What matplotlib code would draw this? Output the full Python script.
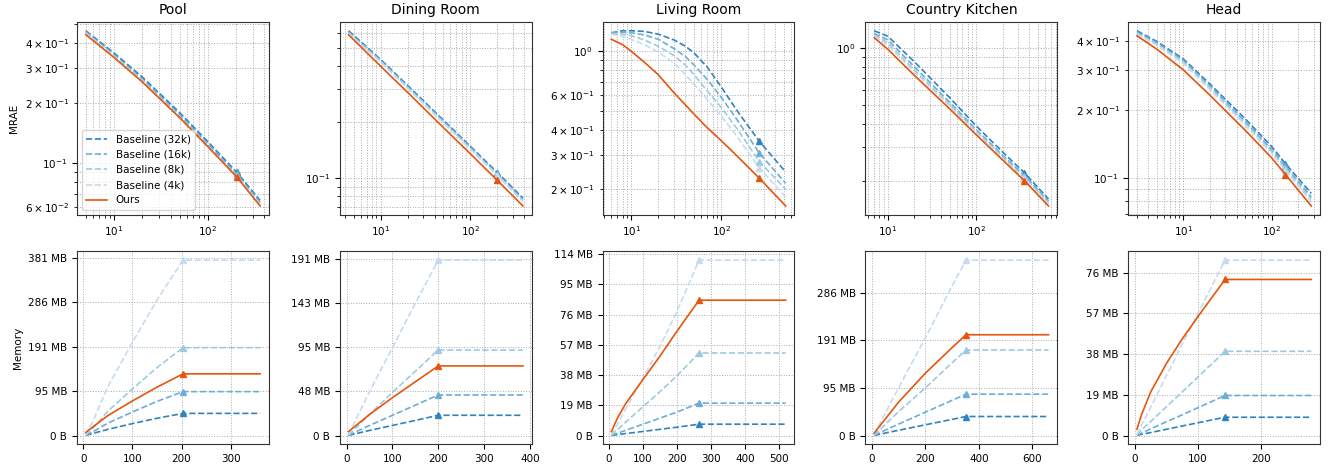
import matplotlib
matplotlib.use("Agg")
import matplotlib.pyplot as plt
from matplotlib.ticker import FuncFormatter, MultipleLocator

scenes = ["Pool", "Dining Room", "Living Room", "Country Kitchen", "Head"]
labels = ["Baseline (32k)", "Baseline (16k)", "Baseline (8k)", "Baseline (4k)", "Ours"]
colors = ["#3282bd", "#6baed6", "#9ecae1", "#c6dbef", "#e6550d"]

# x where memory stops growing (triangle marker), one per scene
knee_x = [203, 200, 265, 352, 143]

# ---- MRAE (top row), order: 32k, 16k, 8k, 4k, ours
pool_mrae_x = [5, 10, 20, 50, 100, 203, 360]
pool_mrae = [
    [0.46, 0.356, 0.27, 0.179, 0.128, 0.09, 0.065],
    [0.455, 0.35, 0.264, 0.175, 0.125, 0.088, 0.0635],
    [0.45, 0.345, 0.26, 0.171, 0.122, 0.0865, 0.0625],
    [0.446, 0.341, 0.256, 0.168, 0.12, 0.0855, 0.0618],
    [0.44, 0.338, 0.255, 0.169, 0.121, 0.0852, 0.061],
]
dining_mrae_x = [4.4, 10, 20, 50, 100, 200, 385]
dining_mrae = [
    [0.62, 0.435, 0.315, 0.205, 0.148, 0.107, 0.078],
    [0.61, 0.43, 0.31, 0.202, 0.146, 0.105, 0.0765],
    [0.605, 0.425, 0.307, 0.2, 0.144, 0.104, 0.0755],
    [0.60, 0.42, 0.304, 0.198, 0.143, 0.103, 0.0748],
    [0.59, 0.40, 0.289, 0.187, 0.135, 0.097, 0.0707],
]
living_mrae_x = [6, 8, 10, 14, 20, 30, 40, 50, 70, 100, 150, 265, 520]
living_mrae = [
    [1.24, 1.27, 1.27, 1.26, 1.22, 1.14, 1.06, 0.98, 0.83, 0.66, 0.5, 0.35, 0.245],
    [1.24, 1.25, 1.24, 1.21, 1.15, 1.03, 0.94, 0.85, 0.72, 0.585, 0.45, 0.305, 0.215],
    [1.23, 1.22, 1.2, 1.14, 1.06, 0.95, 0.85, 0.76, 0.63, 0.52, 0.405, 0.277, 0.2],
    [1.22, 1.19, 1.15, 1.08, 0.99, 0.87, 0.76, 0.68, 0.57, 0.47, 0.37, 0.257, 0.183],
    [1.15, 1.08, 1.0, 0.88, 0.76, 0.615, 0.535, 0.48, 0.41, 0.353, 0.295, 0.228, 0.165],
]
country_mrae_x = [7, 10, 20, 50, 100, 200, 352, 660]
country_mrae = [
    [1.24, 1.16, 0.85, 0.55, 0.39, 0.283, 0.22, 0.16],
    [1.2, 1.11, 0.8, 0.52, 0.373, 0.272, 0.213, 0.156],
    [1.18, 1.07, 0.77, 0.505, 0.365, 0.266, 0.208, 0.153],
    [1.16, 1.04, 0.75, 0.495, 0.358, 0.262, 0.205, 0.151],
    [1.14, 0.99, 0.72, 0.48, 0.35, 0.257, 0.2, 0.147],
]
head_mrae_x = [3, 5, 10, 20, 50, 100, 143, 280]
head_mrae = [
    [0.445, 0.40, 0.335, 0.26, 0.183, 0.138, 0.116, 0.086],
    [0.44, 0.395, 0.33, 0.255, 0.178, 0.134, 0.113, 0.083],
    [0.435, 0.39, 0.325, 0.25, 0.175, 0.131, 0.11, 0.081],
    [0.43, 0.385, 0.32, 0.246, 0.172, 0.129, 0.108, 0.079],
    [0.423, 0.37, 0.30, 0.232, 0.163, 0.123, 0.104, 0.0757],
]

# ---- memory in bytes (bottom row)
pool_mem_x = [5, 20, 50, 100, 150, 203, 360]
pool_mem = [
    [0.5e6, 5e6, 14e6, 27e6, 39e6, 50e6, 50e6],
    [1e6, 9e6, 28e6, 53e6, 77e6, 99e6, 99e6],
    [1e6, 17e6, 55e6, 105e6, 153e6, 198e6, 198e6],
    [2e6, 33e6, 110e6, 210e6, 305e6, 395e6, 395e6],
    [7e6, 20e6, 45e6, 78e6, 109e6, 139e6, 139e6],
]
dining_mem_x = [4, 50, 100, 150, 200, 385]
dining_mem = [
    [0.2e6, 5.8e6, 11.5e6, 17.2e6, 23e6, 23e6],
    [0.3e6, 11.5e6, 23e6, 34.5e6, 46e6, 46e6],
    [0.5e6, 24e6, 49e6, 73e6, 97e6, 97e6],
    [1e6, 50e6, 100e6, 150e6, 199e6, 199e6],
    [4.5e6, 24e6, 43e6, 61e6, 79e6, 79e6],
]
living_mem_x = [7, 25, 50, 100, 150, 200, 265, 520]
living_mem = [
    [0.1e6, 0.6e6, 1.3e6, 2.7e6, 4.1e6, 5.5e6, 7.5e6, 7.5e6],
    [0.2e6, 1.5e6, 3.5e6, 7.5e6, 11.5e6, 15.5e6, 21.4e6, 21.4e6],
    [0.3e6, 3.8e6, 9e6, 19e6, 29e6, 39.5e6, 54.6e6, 54.6e6],
    [0.5e6, 7.5e6, 18e6, 38e6, 59e6, 82e6, 116e6, 116e6],
    [2.6e6, 11.5e6, 21.4e6, 37e6, 52.5e6, 69e6, 89.5e6, 89.5e6],
]
country_mem_x = [9, 100, 200, 300, 352, 660]
country_mem = [
    [0.3e6, 11e6, 22.5e6, 34e6, 40e6, 40e6],
    [0.5e6, 24e6, 49e6, 74e6, 87e6, 87e6],
    [1e6, 50e6, 100e6, 153e6, 180e6, 180e6],
    [2e6, 100e6, 205e6, 315e6, 369e6, 369e6],
    [5e6, 70e6, 131e6, 185e6, 212e6, 212e6],
]
head_mem_x = [3, 10, 25, 50, 75, 100, 143, 280]
head_mem = [
    [0.1e6, 0.6e6, 1.5e6, 3.1e6, 4.7e6, 6.3e6, 9.0e6, 9.0e6],
    [0.2e6, 1.2e6, 3.3e6, 6.8e6, 10.2e6, 13.7e6, 19.7e6, 19.7e6],
    [0.3e6, 2.6e6, 7e6, 14.2e6, 21.5e6, 28.8e6, 41.4e6, 41.4e6],
    [0.5e6, 5e6, 14e6, 29.5e6, 45e6, 60e6, 86.2e6, 86.2e6],
    [3.1e6, 10e6, 21.5e6, 35.5e6, 47.5e6, 58.5e6, 76.7e6, 76.7e6],
]

mrae_x = [pool_mrae_x, dining_mrae_x, living_mrae_x, country_mrae_x, head_mrae_x]
mrae = [pool_mrae, dining_mrae, living_mrae, country_mrae, head_mrae]
mem_x = [pool_mem_x, dining_mem_x, living_mem_x, country_mem_x, head_mem_x]
mem = [pool_mem, dining_mem, living_mem, country_mem, head_mem]
mem_step = [100e6, 50e6, 20e6, 100e6, 20e6]


def fmt_bytes(v, pos):
    if abs(v) < 1:
        return "0 B"
    return f"{v / 2**20:.0f} MB"


plt.rcParams["font.size"] = 7.5
fig, axes = plt.subplots(2, 5, figsize=(13.28, 4.68), dpi=100)
fig.subplots_adjust(left=0.058, right=0.994, top=0.953, bottom=0.051,
                    wspace=0.37, hspace=0.19)

for i, name in enumerate(scenes):
    ax = axes[0, i]
    bx = axes[1, i]
    k_top = mrae_x[i].index(knee_x[i])
    k_bot = mem_x[i].index(knee_x[i])
    for j in range(5):
        ls = "-" if j == 4 else "--"
        z = 3 if j == 4 else 2
        ax.plot(mrae_x[i], mrae[i][j], ls, color=colors[j], lw=1.2,
                label=labels[j], zorder=z)
        ax.plot(knee_x[i], mrae[i][j][k_top], "^", color=colors[j], ms=4.5, zorder=z)
        bx.plot(mem_x[i], mem[i][j], ls, color=colors[j], lw=1.2, zorder=z)
        bx.plot(knee_x[i], mem[i][j][k_bot], "^", color=colors[j], ms=4.5, zorder=z)
    ax.set_xscale("log")
    ax.set_yscale("log")
    ax.set_title(name, fontsize=10)
    ax.grid(True, which="both", ls=":", color="#aaaaaa", lw=0.7)
    bx.grid(True, ls=":", color="#aaaaaa", lw=0.7)
    bx.yaxis.set_major_locator(MultipleLocator(mem_step[i]))
    bx.yaxis.set_major_formatter(FuncFormatter(fmt_bytes))
    for a in (ax, bx):
        for s in a.spines.values():
            s.set_color("#333333")

axes[0, 0].set_ylabel("MRAE")
axes[1, 0].set_ylabel("Memory")
axes[0, 0].legend(loc="lower left", fontsize=7.5)

fig.savefig("out.png", dpi=100)
